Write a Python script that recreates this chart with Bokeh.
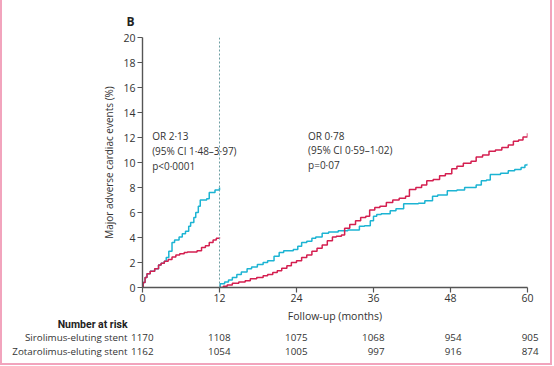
from bokeh.plotting import figure
from bokeh.layouts import column
from bokeh.models import Range1d, FixedTicker, Span
from bokeh.core.properties import value
from bokeh.embed import file_html
from bokeh.resources import INLINE

# ---------------- data ----------------
months_ticks = [0, 12, 24, 36, 48, 60]
y_ticks = [0, 2, 4, 6, 8, 10, 12, 14, 16, 18, 20]

# Zotarolimus-eluting stent (cyan), 0-12 months
zot1_t = [0, 0.1, 0.4, 0.7, 1.2, 1.9, 2.5, 2.9, 3.4, 3.7, 4.1, 4.6, 5.0, 5.7, 6.2, 6.7, 7.2,
          7.5, 8.0, 8.3, 8.7, 9.0, 10.0, 10.4, 11.3, 12]
zot1_v = [0, 0.4, 0.8, 1.1, 1.3, 1.5, 1.8, 1.95, 2.1, 2.4, 2.9, 3.6, 3.8, 4.05, 4.3, 4.5, 4.9,
          5.2, 5.6, 6.0, 6.5, 7.0, 7.1, 7.6, 7.8, 8.0]
# Sirolimus-eluting stent (red), 0-12 months
sir1_t = [0, 0.1, 0.4, 0.7, 1.2, 1.9, 2.5, 2.9, 3.4, 4.0, 4.6, 5.2, 5.8, 6.5, 7.0, 8.5, 9.2,
          9.8, 10.4, 11.0, 11.5, 12]
sir1_v = [0, 0.4, 0.8, 1.1, 1.3, 1.5, 1.8, 1.95, 2.1, 2.25, 2.45, 2.6, 2.7, 2.8, 2.85, 2.95, 3.2,
          3.35, 3.6, 3.8, 3.95, 4.0]
# Landmark 12-60 months
zot2_t = [12, 12.1, 12.8, 13.4, 14.0, 14.7, 15.4, 16.3, 17.0, 17.9, 18.8, 19.5, 20.5, 21.3, 22.0,
          23.5, 24.2, 24.8, 25.6, 26.4, 27.0, 28.0, 29.0, 30.5, 32.0, 33.8, 34.6, 35.5, 36.0,
          36.5, 37.2, 38.6, 39.5, 40.7, 43.0, 44.0, 45.2, 46.0, 47.5, 49.0, 50.2, 52.0, 52.8,
          53.6, 54.2, 55.8, 57.0, 58.0, 59.0, 59.6, 60]
zot2_v = [0, 0.3, 0.45, 0.6, 0.8, 1.05, 1.25, 1.5, 1.65, 1.85, 2.0, 2.15, 2.5, 2.8, 2.95,
          3.05, 3.3, 3.6, 3.7, 3.95, 4.05, 4.35, 4.45, 4.55, 4.6, 4.9, 4.95, 5.35, 5.7,
          5.85, 5.9, 6.15, 6.3, 6.7, 6.75, 6.95, 7.3, 7.4, 7.75, 7.8, 8.0, 8.2, 8.55,
          8.6, 9.05, 9.15, 9.35, 9.45, 9.6, 9.8, 9.9]
sir2_t = [12, 12.6, 13.2, 14.0, 15.0, 16.0, 16.8, 17.8, 18.8, 19.5, 20.3, 21.0, 21.7, 22.5, 23.2,
          24.0, 24.8, 25.6, 26.4, 27.2, 28.0, 28.8, 29.6, 30.2, 31.0, 31.5, 32.3, 33.2, 34.0,
          34.8, 35.4, 36.2, 37.0, 38.0, 39.0, 40.0, 41.0, 41.6, 42.6, 43.5, 44.3, 45.3, 46.3,
          47.2, 48.2, 49.0, 50.0, 51.2, 52.0, 53.0, 54.0, 55.0, 56.0, 57.0, 57.8, 58.6, 59.3, 60]
sir2_v = [0, 0.1, 0.2, 0.35, 0.45, 0.55, 0.7, 0.8, 0.95, 1.05, 1.2, 1.35, 1.55, 1.75, 2.0,
          2.15, 2.4, 2.6, 2.9, 3.15, 3.4, 3.75, 4.05, 4.1, 4.2, 4.75, 5.05, 5.35, 5.6,
          5.7, 6.2, 6.4, 6.5, 6.8, 7.0, 7.15, 7.3, 7.85, 8.0, 8.2, 8.55, 8.65, 8.95,
          9.1, 9.5, 9.7, 9.95, 10.1, 10.45, 10.6, 10.9, 11.0, 11.2, 11.4, 11.7, 11.8, 12.05, 12.35]

annot_text = ["OR 2·13\n(95% CI 1·48–3·97)\np<0·0001", "OR 0·78\n(95% CI 0·59–1·02)\np=0·07"]
annot_x = [1.5, 25.8]
annot_y = [12.65, 12.7]

x_label = "Follow-up (months)"
y_label = "Major adverse cardiac events (%)"
table_title = "Number at risk"
groups = ["Sirolimus-eluting stent", "Zotarolimus-eluting stent"]
at_risk_sir = [1170, 1108, 1075, 1068, 954, 905]
at_risk_zot = [1162, 1054, 1005, 997, 916, 874]

# ---------------- style ----------------
FONT = "Open Sans"
FS = "10px"
TXT = "#333333"
AX = "#555555"
CYAN = "#1cb4d3"
RED = "#d41f50"
PINK = "#f2a4bd"

W = 548
LEFT = 140
RIGHT = 23
FRAME_W = W - LEFT - RIGHT
TOP = 37
BOT = 20
TOP_H = 287 + BOT

p = figure(width=W, height=TOP_H, x_range=Range1d(0, 60), y_range=Range1d(0, 20),
           output_backend="svg", toolbar_location=None,
           min_border_left=LEFT, min_border_right=RIGHT, min_border_top=TOP,
           min_border_bottom=BOT)
p.frame_align = False
p.title.text = "B"
p.title.text_font = FONT
p.title.text_font_size = "12px"
p.title.text_font_style = "bold"
p.title.text_color = "#222222"
p.title.align = "left"
p.title.offset = -16
p.title.standoff = 15

p.xgrid.visible = False
p.ygrid.visible = False
p.outline_line_color = None

p.xaxis.ticker = FixedTicker(ticks=months_ticks)
p.yaxis.ticker = FixedTicker(ticks=y_ticks)
for ax in (p.xaxis[0], p.yaxis[0]):
    ax.axis_line_color = AX
    ax.axis_line_width = 1.4
    ax.major_tick_line_color = AX
    ax.major_tick_line_width = 1.2
    ax.major_tick_in = 0
    ax.major_tick_out = 5
    ax.minor_tick_line_color = None
    ax.major_label_text_font = FONT
    ax.major_label_text_font_size = "10.5px"
    ax.major_label_text_color = TXT
    ax.axis_label_text_font = FONT
    ax.axis_label_text_font_size = FS
    ax.axis_label_text_font_style = "normal"
    ax.axis_label_text_color = TXT
p.xaxis.major_label_standoff = 1
p.yaxis.major_label_standoff = 2
p.yaxis.axis_label = y_label
p.yaxis.axis_label_standoff = 4

p.add_layout(Span(location=12, dimension="height", line_color="#6d9ea3",
                  line_dash="2 2", line_width=1))

p.step(zot1_t, zot1_v, mode="after", line_color=CYAN, line_width=1.5)
p.step(sir1_t, sir1_v, mode="after", line_color=RED, line_width=1.5)
p.step(zot2_t, zot2_v, mode="after", line_color=CYAN, line_width=1.5)
p.step(sir2_t, sir2_v, mode="after", line_color=RED, line_width=1.5)

p.text(x=annot_x, y=annot_y, text=annot_text, text_font=value(FONT), text_font_size=FS,
       text_color=TXT, text_baseline="top", text_align="left", text_line_height=1.05)

# ---------------- axis title + number at risk table ----------------
BOT_H = 56
ppm = FRAME_W / 60.0
q = figure(width=W, height=BOT_H, x_range=Range1d(-LEFT / ppm, (W - LEFT) / ppm),
           y_range=Range1d(BOT_H, 0), output_backend="svg", toolbar_location=None,
           min_border_left=0, min_border_right=0, min_border_top=0, min_border_bottom=0)
q.frame_align = False
q.axis.visible = False
q.xgrid.visible = False
q.ygrid.visible = False
q.outline_line_color = None

q.text(x=[30], y=[8], text=[x_label], text_font=value(FONT), text_font_size="10.5px",
       text_color=TXT, text_align="center", text_baseline="middle")
q.text(x=[0], y=[16.5], text=[table_title], text_font=value("Roboto"), text_font_size="10.5px",
       text_color="#222222", text_font_style="bold", text_align="right",
       text_baseline="middle", x_offset=-15)
row_y = [30, 44]
q.text(x=[0, 0], y=row_y, text=groups, text_font=value(FONT), text_font_size="9.8px",
       text_color=TXT, text_align="right", text_baseline="middle", x_offset=-15)
q.text(x=months_ticks, y=[row_y[0]] * len(months_ticks), text=[str(v) for v in at_risk_sir],
       text_font=value(FONT), text_font_size="9.8px", text_color=TXT, text_align="right",
       text_baseline="middle", x_offset=11)
q.text(x=months_ticks, y=[row_y[1]] * len(months_ticks), text=[str(v) for v in at_risk_zot],
       text_font=value(FONT), text_font_size="9.8px", text_color=TXT, text_align="right",
       text_baseline="middle", x_offset=11)

layout = column(p, q, spacing=0,
                styles={"border-left": "2px solid " + PINK, "border-right": "2px solid " + PINK,
                        "border-bottom": "2px solid " + PINK})

open("out.html", "w").write(file_html(layout, INLINE))
